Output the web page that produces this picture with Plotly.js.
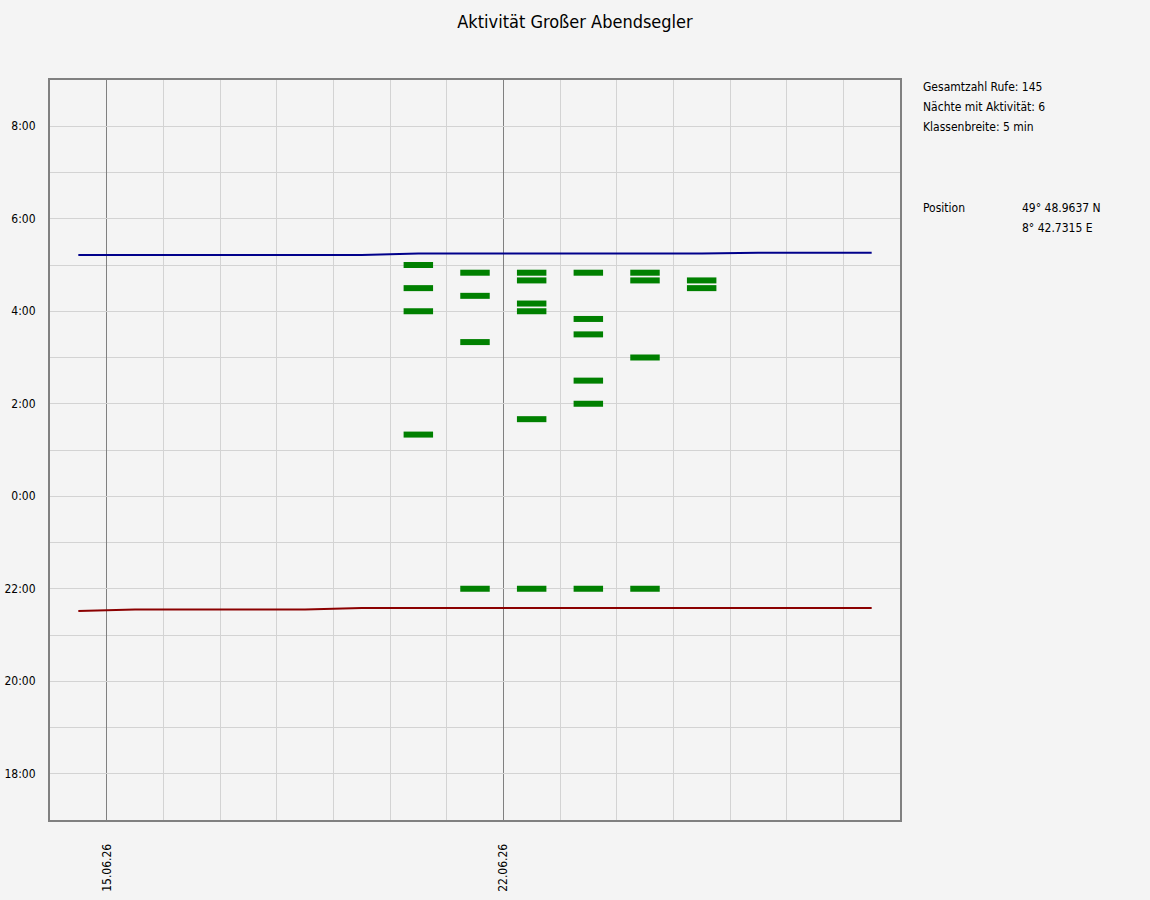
<!DOCTYPE html>
<html>
<head>
<meta charset="utf-8">
<script src="https://cdn.plot.ly/plotly-3.0.1.min.js"></script>
<style>
  html, body { margin: 0; padding: 0; background: #f4f4f4; }
  #plot { width: 1150px; height: 900px; }
</style>
</head>
<body>
<div id="plot"></div>
<script>
// one column per night, the label marks the evening the night starts
const days = ['14.06.26', '15.06.26', '16.06.26', '17.06.26', '18.06.26',
              '19.06.26', '20.06.26', '21.06.26', '22.06.26', '23.06.26',
              '24.06.26', '25.06.26', '26.06.26', '27.06.26', '28.06.26'];
const labelledDays = ['15.06.26', '22.06.26'];

const sunset  = ['21:31', '21:33', '21:33', '21:33', '21:33', '21:35', '21:35', '21:35',
                 '21:35', '21:35', '21:35', '21:35', '21:35', '21:35', '21:35'];
const sunrise = ['5:13', '5:13', '5:13', '5:13', '5:13', '5:13', '5:15', '5:15',
                 '5:15', '5:15', '5:15', '5:15', '5:16', '5:16', '5:16'];

// 5 min classes with calls
const callNights = ['20.06.26', '21.06.26', '22.06.26', '23.06.26', '24.06.26', '25.06.26'];
const callTimes = [
    ['1:20', '4:00', '4:30', '5:00'],
    ['22:00', '3:20', '4:20', '4:50'],
    ['22:00', '1:40', '4:00', '4:10', '4:40', '4:50'],
    ['22:00', '2:00', '2:30', '3:30', '3:50', '4:50'],
    ['22:00', '3:00', '4:40', '4:50'],
    ['4:30', '4:40']
];

const yTickTimes = ['18:00', '20:00', '22:00', '0:00', '2:00', '4:00', '6:00', '8:00'];

const infoLines = ['Gesamtzahl Rufe: 145', 'Nächte mit Aktivität: 6', 'Klassenbreite: 5 min'];

// evening hours go below midnight
function toHours(t) {
    const parts = t.split(':');
    let h = parseInt(parts[0], 10) + parseInt(parts[1], 10) / 60;
    if (h >= 12) h -= 24;
    return h;
}

const FONT = 'DejaVu Sans Condensed, DejaVu Sans, sans-serif';
const W = 1150, H = 900;
const M = { l: 50, r: 250, t: 80, b: 80 };
const px2x = p => (p - M.l) / (W - M.l - M.r);
const px2y = p => (H - M.b - p) / (H - M.t - M.b);

const centers = days.map((d, i) => i + 0.5);

// bars as short thick segments, nulls in between
const barX = [], barY = [];
callNights.forEach((night, k) => {
    const c = days.indexOf(night) + 0.5;
    callTimes[k].forEach(t => {
        const y = toHours(t);
        barX.push(c - 0.26, c + 0.26, null);
        barY.push(y, y, null);
    });
});

const traces = [
    {
        x: centers, y: sunset.map(toHours),
        type: 'scatter', mode: 'lines',
        line: { color: '#8b0000', width: 2 },
        hoverinfo: 'skip'
    },
    {
        x: centers, y: sunrise.map(toHours),
        type: 'scatter', mode: 'lines',
        line: { color: '#00008b', width: 2 },
        hoverinfo: 'skip'
    },
    {
        x: barX, y: barY,
        type: 'scatter', mode: 'lines',
        line: { color: '#008000', width: 6 },
        connectgaps: false,
        hoverinfo: 'skip'
    }
];

const annotations = infoLines.map((txt, i) => ({
    text: txt, x: px2x(921), y: px2y(87 + i * 20)
}));
annotations.push(
    { text: 'Position', x: px2x(921), y: px2y(208) },
    { text: '49° 48.9637 N', x: px2x(1020), y: px2y(208) },
    { text: '8° 42.7315 E', x: px2x(1020), y: px2y(228) }
);
annotations.forEach(a => {
    a.xref = 'paper'; a.yref = 'paper';
    a.xanchor = 'left'; a.yanchor = 'middle'; a.showarrow = false;
    a.font = { family: FONT, size: 12, color: '#000' };
});

const layout = {
    width: W, height: H,
    margin: M,
    paper_bgcolor: '#f4f4f4',
    plot_bgcolor: '#f4f4f4',
    showlegend: false,
    font: { family: FONT, size: 12, color: '#000' },
    title: {
        text: 'Aktivität Großer Abendsegler',
        x: 0.5, xanchor: 'center', y: 1 - 22 / H, yanchor: 'middle',
        font: { family: FONT, size: 18, color: '#000' }
    },
    xaxis: {
        range: [0, days.length],
        tickmode: 'array',
        tickvals: labelledDays.map(d => days.indexOf(d)),
        ticktext: labelledDays,
        tickangle: -90,
        ticks: '',
        ticklabelstandoff: 17,
        tickfont: { family: FONT, size: 12, color: '#000' },
        showgrid: true, gridcolor: '#808080', gridwidth: 1,
        minor: { tickmode: 'linear', tick0: 0, dtick: 1, showgrid: true, gridcolor: '#d3d3d3', gridwidth: 1, ticks: '' },
        zeroline: false,
        showline: true, mirror: true, linecolor: '#808080', linewidth: 2,
        fixedrange: true
    },
    yaxis: {
        range: [-7, 9],
        tickmode: 'array',
        tickvals: yTickTimes.map(toHours),
        ticktext: yTickTimes,
        ticks: '',
        ticklabelstandoff: 10,
        tickfont: { family: FONT, size: 12, color: '#000' },
        showgrid: true, gridcolor: '#d3d3d3', gridwidth: 1,
        minor: { tickmode: 'linear', tick0: 0, dtick: 1, showgrid: true, gridcolor: '#d3d3d3', gridwidth: 1, ticks: '' },
        zeroline: false,
        showline: true, mirror: true, linecolor: '#808080', linewidth: 2,
        fixedrange: true
    },
    annotations: annotations
};

Plotly.newPlot('plot', traces, layout, { displayModeBar: false, staticPlot: true });
</script>
</body>
</html>
